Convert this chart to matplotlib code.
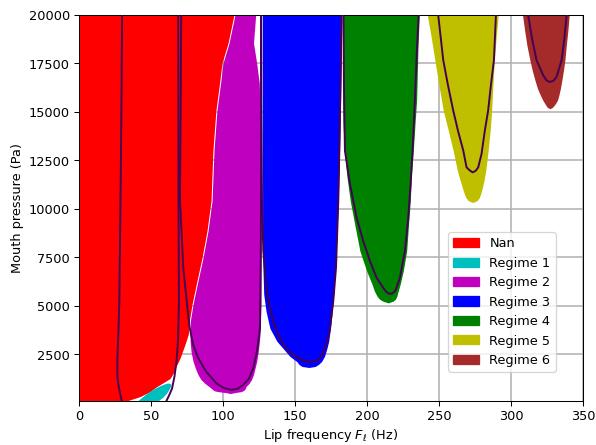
import matplotlib
matplotlib.use("Agg")
from matplotlib import pyplot as plt
from matplotlib.patches import Patch

# regime areas: mouth pressure levels (Pa) with left / right lip frequency (Hz)
nan_p = [100, 324, 582, 841, 1049, 1256, 1515, 1773, 2291, 3016, 3534, 4207, 5090, 6280, 7470, 8870,
         10420, 13010, 15080, 16480, 17520, 18550, 20000]
nan_left = [0] * len(nan_p)
nan_right = [33.1, 42.4, 49.3, 54.0, 58.7, 63.2, 65.3, 66.7, 70.1, 73.6, 75.9, 76.6, 78.5, 81.9, 85.4, 88.9,
             91.7, 93.0, 95.1, 97.6, 99.3, 103.5, 107.6]

r1_p = [100, 300, 500, 700, 850, 960, 1020]
r1_left = [40.6, 43.8, 47.2, 51.4, 55.2, 58.7, 61.1]
r1_right = [54.9, 58.3, 60.8, 62.5, 63.5, 63.9, 62.5]

r2_p = [480, 531, 580, 630, 740, 840, 1000, 1200, 1460, 1770, 2140, 2650, 3170, 3530, 4210, 5090, 6280,
        7470, 8870, 10420, 13010, 15080, 16480, 17520, 18550, 20000]
r2_left = [105, 102.1, 96.5, 93.75, 92.0, 90.3, 87.5, 84.7, 82.6, 80.9, 79.2, 77.8, 77.2, 77.1, 77.3, 79.2,
           82.6, 86.1, 89.6, 92.4, 93.75, 95.8, 98.3, 100, 104.2, 108.3]
r2_right = [105, 108.3, 112.5, 114.2, 115.6, 116, 118.1, 119.8, 121.2, 122.2, 123.4, 124.5, 125.3, 125.7,
            126, 126.4, 126.4, 126.4, 126.4, 126.4, 126.4, 125.7, 125.2, 123.4, 121.2, 122.7]

r3_p = [1825, 1877, 1981, 2136, 2395, 2810, 3171, 3845, 4725, 5605, 6796, 8350, 10421, 13010, 15600, 18188, 20000]
r3_left = [159.7, 154.9, 152.8, 151.2, 146.5, 141.7, 137.5, 132.6, 129.9, 128.3, 127.8, 127.5, 127.5, 127.4,
           127.4, 127.4, 127.4]
r3_right = [159.7, 164.0, 166.3, 168.5, 170.5, 172.2, 173.4, 174.7, 175.9, 176.9, 178.0, 179.0, 180.1, 181.0,
            181.7, 182.3, 182.6]

r4_p = [5155, 5243, 5347, 5502, 5761, 6123, 6796, 7832, 9126, 10421, 11715, 13010, 14300, 15600, 18188, 20000]
r4_left = [214.8, 211.1, 208.7, 207.0, 205.2, 203.5, 199.8, 195.1, 191.7, 188.4, 186.0, 184.3, 183.4, 183.1,
           183.3, 183.5]
r4_right = [214.8, 218.1, 219.8, 220.8, 221.7, 223.1, 225.2, 227.6, 228.8, 230.1, 230.9, 232.2, 233.3, 234.5,
            235.4, 236.3]

r5_p = [10333, 10421, 10576, 10783, 11042, 11456, 11974, 13010, 14045, 15081, 16375, 17670, 18964, 20000]
r5_left = [273.4, 270.5, 268.8, 267.6, 266.5, 264.8, 262.8, 259.9, 256.5, 253.0, 250.0, 247.2, 244.4, 241.9]
r5_right = [273.4, 276.4, 278.0, 279.0, 280.0, 281.3, 282.5, 284.2, 285.6, 286.6, 287.5, 288.5, 289.9, 291.2]

r6_p = [15169, 15236, 15392, 15599, 15858, 16220, 16634, 17152, 17670, 18447, 19223, 20000]
r6_left = [327.1, 325.3, 323.9, 322.2, 320.5, 318.4, 316.7, 314.8, 313.2, 311.1, 309.5, 308.1]
r6_right = [327.1, 328.8, 330.6, 332.3, 333.3, 334.4, 335.4, 336.5, 337.5, 338.5, 339.6, 340.5]

# threshold contour lines: frequency (Hz) and pressure (Pa) along each curve
c1_f = [29.9, 29.5, 28.8, 28.0, 27.3, 26.6, 26.7, 27.3, 28.5, 29.7]
c1_p = [20000, 15600, 10421, 5243, 3534, 2136, 1359, 945, 479, 100]
c2_f = [68.9, 69.0, 69.1, 69.4, 68.75, 67.7, 66.3, 64.6, 62.5, 60.7]
c2_p = [20000, 15600, 10421, 5243, 3171, 2136, 1359, 738, 376, 100]
c3_f = [71.0, 70.6, 70.1, 71.3, 72.4, 74.8, 76.7, 79.2, 82.6, 88.2, 95.6, 100.7, 106.0, 110.4, 114.1, 118.1,
        121.0, 123.6, 125.7, 126.3, 126.4, 126.4]
c3_p = [20000, 15600, 10421, 8712, 6967, 5243, 3948, 3016, 2343, 1618, 997, 764, 671, 738, 930, 1256,
        1789, 2654, 3860, 7832, 10421, 20000]
c4_f = [126.6, 126.7, 127.1, 128.0, 130.3, 132.6, 134.9, 138.2, 141.9, 146.5, 151.2, 155.6, 160.4, 163.9,
        166.2, 168.8, 170.8, 172.9, 174.3, 176.6, 178.5, 180.1, 181.2, 182.3]
c4_p = [20000, 15600, 10421, 7832, 5760, 4880, 4207, 3534, 3000, 2602, 2369, 2188, 2100, 2146,
        2224, 2446, 2825, 3327, 3860, 5243, 6967, 10421, 14563, 20000]
c5_f = [183.7, 184.0, 184.7, 188.2, 192.8, 197.4, 202.1, 206.7, 211.3, 213.5, 215.6, 217.7, 219.8, 222.9,
        226.4, 228.7, 230.3, 231.7, 233.3, 234.7, 235.9]
c5_p = [20000, 16634, 13010, 11285, 9556, 8350, 7314, 6449, 5932, 5719, 5621, 5647, 5787, 6449,
        7832, 9556, 11285, 13010, 15600, 18188, 20000]
c6_f = [249.5, 253.0, 256.3, 259.9, 263.2, 266.9, 269.2, 271.2, 273.4, 275.5, 277.3, 279.6, 281.9, 284.2,
        286.1, 288.2, 289.6]
c6_p = [20000, 17670, 16375, 15081, 14045, 13010, 12145, 12000, 11886, 11964, 12145, 12839, 14045, 15081,
        16375, 17670, 20000]
c7_f = [312.0, 314.6, 317.8, 322.4, 324.7, 327.1, 329.5, 331.7, 335.2, 337.2, 338.7]
c7_p = [20000, 18809, 17670, 16893, 16634, 16546, 16608, 16805, 17670, 18809, 20000]

labels = ['Nan', 'Regime 1', 'Regime 2', 'Regime 3', 'Regime 4', 'Regime 5', 'Regime 6']
colors = ['r', 'c', 'm', 'b', 'g', 'y', 'brown']
areas = [(nan_p, nan_left, nan_right), (r1_p, r1_left, r1_right), (r2_p, r2_left, r2_right),
         (r3_p, r3_left, r3_right), (r4_p, r4_left, r4_right), (r5_p, r5_left, r5_right),
         (r6_p, r6_left, r6_right)]
lines = [(c1_f, c1_p), (c2_f, c2_p), (c3_f, c3_p), (c4_f, c4_p), (c5_f, c5_p), (c6_f, c6_p), (c7_f, c7_p)]

fig = plt.figure(figsize=(6.4, 4.78), dpi=93.125)
ax = fig.add_subplot(1, 1, 1)
fig.subplots_adjust(left=0.1326, right=0.978, top=0.966, bottom=0.099)

for (p, fl, fr), col in zip(areas, colors):
    ax.fill_betweenx(p, fl, fr, color=col, linewidth=0, zorder=2)
for f, p in lines:
    ax.plot(f, p, color='#440154', linewidth=1.5, zorder=3)

ax.set_axisbelow(True)
ax.grid(True, linewidth=1.2, color='#b0b0b0')
ax.set_xlim(0, 350)
ax.set_ylim(100, 20000)
ax.set_xticks(range(0, 351, 50))
ax.set_yticks(range(2500, 20001, 2500))
ax.set_xlabel(r'Lip frequency $F_\ell$ (Hz)', labelpad=3)
ax.set_ylabel('Mouth pressure (Pa)')

handles = [Patch(color=c, label=l) for c, l in zip(colors, labels)]
ax.legend(handles=handles, loc='lower right', bbox_to_anchor=(0.959, 0.058))

fig.savefig('out.png', dpi=93.125)
